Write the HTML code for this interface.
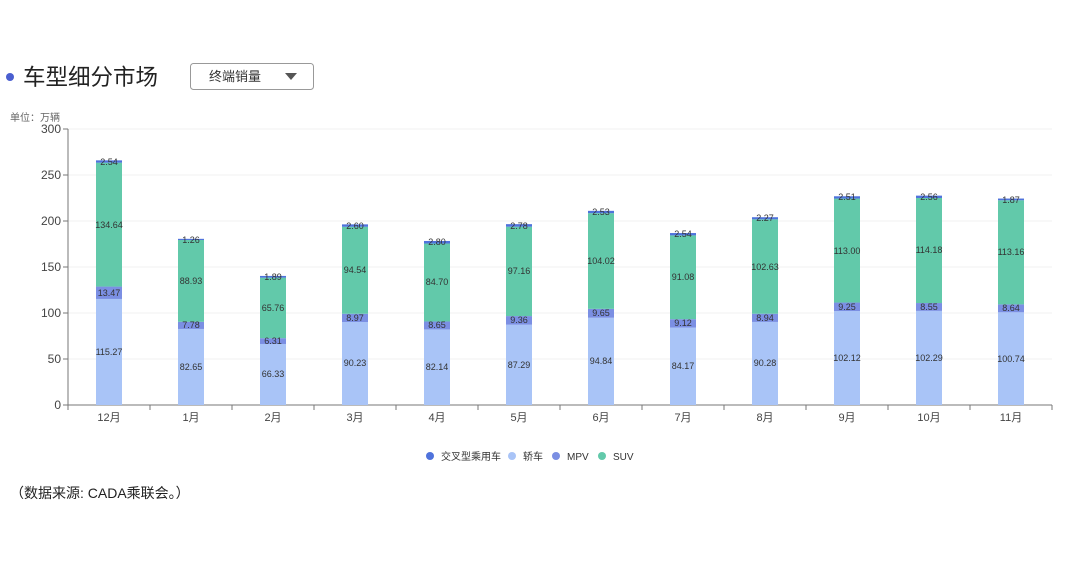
<!DOCTYPE html>
<html><head><meta charset="utf-8"><style>
body{margin:0;width:1080px;height:562px;background:#fff;overflow:hidden;font-family:"Liberation Sans","Noto Sans CJK SC",sans-serif;}
svg{position:absolute;left:0;top:0}
</style></head><body>
<svg width="1080" height="562" viewBox="0 0 1080 562" font-family="Liberation Sans, Noto Sans CJK SC, sans-serif">
<circle cx="10" cy="77" r="4" fill="#4a5fd0"/>
<text x="23" y="85" font-size="22.5" fill="#222">车型细分市场</text>
<rect x="190.5" y="63.5" width="123" height="26" rx="3" fill="#fff" stroke="#999"/>
<text x="209" y="81" font-size="13" fill="#333">终端销量</text>
<polygon points="285,73 297,73 291,80" fill="#555"/>
<text x="10" y="121" font-size="10" fill="#666">单位：万辆</text>
<g stroke="#f2f2f2"><line x1="68" x2="1052" y1="129" y2="129"/><line x1="68" x2="1052" y1="175" y2="175"/><line x1="68" x2="1052" y1="221" y2="221"/><line x1="68" x2="1052" y1="267" y2="267"/><line x1="68" x2="1052" y1="313" y2="313"/><line x1="68" x2="1052" y1="359" y2="359"/></g>
<g font-size="12" fill="#444" text-anchor="end"><text x="61" y="133">300</text><text x="61" y="179">250</text><text x="61" y="225">200</text><text x="61" y="271">150</text><text x="61" y="317">100</text><text x="61" y="363">50</text><text x="61" y="409">0</text></g>
<g stroke="#777"><line x1="68" x2="68" y1="129" y2="405"/><line x1="68" x2="1052" y1="405" y2="405"/>
<line x1="63" x2="68" y1="129" y2="129"/><line x1="63" x2="68" y1="175" y2="175"/><line x1="63" x2="68" y1="221" y2="221"/><line x1="63" x2="68" y1="267" y2="267"/><line x1="63" x2="68" y1="313" y2="313"/><line x1="63" x2="68" y1="359" y2="359"/><line x1="63" x2="68" y1="405" y2="405"/>
<line x1="68" x2="68" y1="405" y2="410"/><line x1="150" x2="150" y1="405" y2="410"/><line x1="232" x2="232" y1="405" y2="410"/><line x1="314" x2="314" y1="405" y2="410"/><line x1="396" x2="396" y1="405" y2="410"/><line x1="478" x2="478" y1="405" y2="410"/><line x1="560" x2="560" y1="405" y2="410"/><line x1="642" x2="642" y1="405" y2="410"/><line x1="724" x2="724" y1="405" y2="410"/><line x1="806" x2="806" y1="405" y2="410"/><line x1="888" x2="888" y1="405" y2="410"/><line x1="970" x2="970" y1="405" y2="410"/><line x1="1052" x2="1052" y1="405" y2="410"/></g>
<g font-size="11" fill="#444" text-anchor="middle"><text x="109" y="421">12月</text><text x="191" y="421">1月</text><text x="273" y="421">2月</text><text x="355" y="421">3月</text><text x="437" y="421">4月</text><text x="519" y="421">5月</text><text x="601" y="421">6月</text><text x="683" y="421">7月</text><text x="765" y="421">8月</text><text x="847" y="421">9月</text><text x="929" y="421">10月</text><text x="1011" y="421">11月</text></g>
<g>
<rect x="96" y="298.95" width="26" height="106.05" fill="#a9c4f7"/><rect x="96" y="286.56" width="26" height="12.39" fill="#7b8fe3"/><rect x="96" y="162.69" width="26" height="123.87" fill="#62c9aa"/><rect x="96" y="160.35" width="26" height="2.34" fill="#4f73dc"/>
<rect x="178" y="328.96" width="26" height="76.04" fill="#a9c4f7"/><rect x="178" y="321.8" width="26" height="7.16" fill="#7b8fe3"/><rect x="178" y="239.99" width="26" height="81.81" fill="#62c9aa"/><rect x="178" y="238.83" width="26" height="1.16" fill="#4f73dc"/>
<rect x="260" y="343.98" width="26" height="61.02" fill="#a9c4f7"/><rect x="260" y="338.17" width="26" height="5.81" fill="#7b8fe3"/><rect x="260" y="277.67" width="26" height="60.5" fill="#62c9aa"/><rect x="260" y="275.93" width="26" height="1.74" fill="#4f73dc"/>
<rect x="342" y="321.99" width="26" height="83.01" fill="#a9c4f7"/><rect x="342" y="313.74" width="26" height="8.25" fill="#7b8fe3"/><rect x="342" y="226.76" width="26" height="86.98" fill="#62c9aa"/><rect x="342" y="224.37" width="26" height="2.39" fill="#4f73dc"/>
<rect x="424" y="329.43" width="26" height="75.57" fill="#a9c4f7"/><rect x="424" y="321.47" width="26" height="7.96" fill="#7b8fe3"/><rect x="424" y="243.55" width="26" height="77.92" fill="#62c9aa"/><rect x="424" y="240.97" width="26" height="2.58" fill="#4f73dc"/>
<rect x="506" y="324.69" width="26" height="80.31" fill="#a9c4f7"/><rect x="506" y="316.08" width="26" height="8.61" fill="#7b8fe3"/><rect x="506" y="226.69" width="26" height="89.39" fill="#62c9aa"/><rect x="506" y="224.14" width="26" height="2.55" fill="#4f73dc"/>
<rect x="588" y="317.75" width="26" height="87.25" fill="#a9c4f7"/><rect x="588" y="308.87" width="26" height="8.88" fill="#7b8fe3"/><rect x="588" y="213.17" width="26" height="95.7" fill="#62c9aa"/><rect x="588" y="210.84" width="26" height="2.33" fill="#4f73dc"/>
<rect x="670" y="327.56" width="26" height="77.44" fill="#a9c4f7"/><rect x="670" y="319.17" width="26" height="8.39" fill="#7b8fe3"/><rect x="670" y="235.38" width="26" height="83.79" fill="#62c9aa"/><rect x="670" y="233.04" width="26" height="2.34" fill="#4f73dc"/>
<rect x="752" y="321.94" width="26" height="83.06" fill="#a9c4f7"/><rect x="752" y="313.72" width="26" height="8.22" fill="#7b8fe3"/><rect x="752" y="219.3" width="26" height="94.42" fill="#62c9aa"/><rect x="752" y="217.21" width="26" height="2.09" fill="#4f73dc"/>
<rect x="834" y="311.05" width="26" height="93.95" fill="#a9c4f7"/><rect x="834" y="302.54" width="26" height="8.51" fill="#7b8fe3"/><rect x="834" y="198.58" width="26" height="103.96" fill="#62c9aa"/><rect x="834" y="196.27" width="26" height="2.31" fill="#4f73dc"/>
<rect x="916" y="310.89" width="26" height="94.11" fill="#a9c4f7"/><rect x="916" y="303.03" width="26" height="7.86" fill="#7b8fe3"/><rect x="916" y="197.98" width="26" height="105.05" fill="#62c9aa"/><rect x="916" y="195.63" width="26" height="2.35" fill="#4f73dc"/>
<rect x="998" y="312.32" width="26" height="92.68" fill="#a9c4f7"/><rect x="998" y="304.37" width="26" height="7.95" fill="#7b8fe3"/><rect x="998" y="200.26" width="26" height="104.11" fill="#62c9aa"/><rect x="998" y="198.54" width="26" height="1.72" fill="#4f73dc"/>
</g>
<g font-size="9" fill="#333" text-anchor="middle">
<text x="109" y="355">115.27</text><text x="109" y="296">13.47</text><text x="109" y="228">134.64</text><text x="109" y="165">2.54</text>
<text x="191" y="370">82.65</text><text x="191" y="328">7.78</text><text x="191" y="284">88.93</text><text x="191" y="243">1.26</text>
<text x="273" y="377">66.33</text><text x="273" y="344">6.31</text><text x="273" y="311">65.76</text><text x="273" y="280">1.89</text>
<text x="355" y="366">90.23</text><text x="355" y="321">8.97</text><text x="355" y="273">94.54</text><text x="355" y="229">2.60</text>
<text x="437" y="370">82.14</text><text x="437" y="328">8.65</text><text x="437" y="285">84.70</text><text x="437" y="245">2.80</text>
<text x="519" y="368">87.29</text><text x="519" y="323">9.36</text><text x="519" y="274">97.16</text><text x="519" y="229">2.78</text>
<text x="601" y="364">94.84</text><text x="601" y="316">9.65</text><text x="601" y="264">104.02</text><text x="601" y="215">2.53</text>
<text x="683" y="369">84.17</text><text x="683" y="326">9.12</text><text x="683" y="280">91.08</text><text x="683" y="237">2.54</text>
<text x="765" y="366">90.28</text><text x="765" y="321">8.94</text><text x="765" y="270">102.63</text><text x="765" y="221">2.27</text>
<text x="847" y="361">102.12</text><text x="847" y="310">9.25</text><text x="847" y="254">113.00</text><text x="847" y="200">2.51</text>
<text x="929" y="361">102.29</text><text x="929" y="310">8.55</text><text x="929" y="253">114.18</text><text x="929" y="200">2.56</text>
<text x="1011" y="362">100.74</text><text x="1011" y="311">8.64</text><text x="1011" y="255">113.16</text><text x="1011" y="203">1.87</text>
</g>
<g font-size="10" fill="#333">
<circle cx="430" cy="456" r="4" fill="#4f73dc"/><text x="441" y="460">交叉型乘用车</text>
<circle cx="512" cy="456" r="4" fill="#a9c4f7"/><text x="523" y="460">轿车</text>
<circle cx="556" cy="456" r="4" fill="#7b8fe3"/><text x="567" y="460">MPV</text>
<circle cx="602" cy="456" r="4" fill="#62c9aa"/><text x="613" y="460">SUV</text>
</g>
<text x="10" y="498" font-size="14" fill="#222">（数据来源: CADA乘联会。）</text>
</svg>
</body></html>
